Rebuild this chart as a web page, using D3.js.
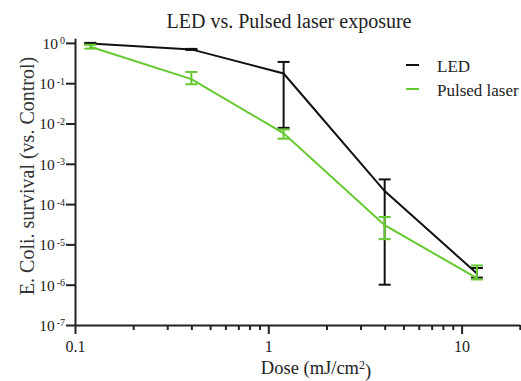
<!DOCTYPE html>
<html>
<head>
<meta charset="utf-8">
<script src="https://cdn.jsdelivr.net/npm/d3@7"></script>
<style>
  body { margin: 0; background: #fff; }
  text { font-family: "Liberation Serif", "DejaVu Serif", serif; fill: #222; }
</style>
</head>
<body>
<script>
// data
const dose = [0.12, 0.4, 1.2, 4, 12];
const ledMean = [0.97, 0.69, 0.174, 2.1e-4, 1.9e-6];
const ledHi = [1.0, 0.71, 0.337, 4.1e-4, 2.6e-6];
const ledLo = [0.93, 0.67, 0.0078, 1.0e-6, 1.5e-6];
const laserMean = [0.80, 0.126, 0.0057, 3.0e-5, 1.45e-6];
const laserHi = [0.90, 0.19, 0.0071, 4.8e-5, 3.0e-6];
const laserLo = [0.72, 0.094, 0.0042, 1.35e-5, 1.35e-6];
const yTicks = [0, -1, -2, -3, -4, -5, -6, -7];
const xTicks = [0.1, 1, 10];

const width = 521, height = 381;

const svg = d3.select("body").append("svg")
  .attr("width", width)
  .attr("height", height);

const x = d3.scaleLog().domain([0.1, 20]).range([75, 519.8]);
const y = d3.scaleLog().domain([1e-7, 1.3]).range([325, 38.3]);

svg.append("text")
  .attr("x", 289)
  .attr("y", 27.5)
  .style("text-anchor", "middle")
  .style("font-size", "20px")
  .text("LED vs. Pulsed laser exposure");

// x axis with minor ticks
const minor = [];
[0.1, 1, 10].forEach((d) => { for (let i = 2; i <= 9; i++) { if (d * i <= 20) minor.push(d * i); } });

svg.append("g")
  .attr("transform", "translate(0," + y(1e-7) + ")")
  .call(d3.axisBottom(x).tickValues(minor).tickSize(5).tickFormat(""))
  .call((g) => g.select(".domain").remove())
  .call((g) => g.selectAll("line").attr("stroke", "#222").attr("stroke-width", 2));

const xAxis = svg.append("g")
  .attr("transform", "translate(0," + y(1e-7) + ")")
  .call(d3.axisBottom(x).tickValues(xTicks).tickSize(9).tickSizeOuter(0).tickFormat((d) => d))
  .call((g) => g.select(".domain").attr("stroke", "#222").attr("stroke-width", 2))
  .call((g) => g.selectAll("line").attr("stroke", "#222").attr("stroke-width", 2));
xAxis.selectAll("text")
  .attr("y", 16)
  .style("font-size", "16px")
  .style("font-family", "Liberation Serif, serif")
  .attr("fill", "#222");

// y axis with superscripted labels
const yAxis = svg.append("g")
  .attr("transform", "translate(" + x(0.1) + ",0)")
  .call(d3.axisLeft(y).tickValues(yTicks.map((p) => Math.pow(10, p))).tickSize(9).tickSizeOuter(0).tickFormat(""))
  .call((g) => g.select(".domain").attr("stroke", "#222").attr("stroke-width", 2))
  .call((g) => g.selectAll("line").attr("stroke", "#222").attr("stroke-width", 2));

yAxis.selectAll(".tick").each(function (d) {
  const p = Math.round(Math.log10(d));
  const t = d3.select(this).append("text")
    .attr("x", -10)
    .attr("dy", "0.35em")
    .style("text-anchor", "end")
    .style("font-size", "15.5px");
  t.append("tspan").text("10");
  t.append("tspan")
    .attr("dx", "2")
    .attr("dy", "-0.45em")
    .style("font-size", "10px")
    .text(p === 0 ? "0" : String(p));
});

svg.append("text")
  .attr("transform", "translate(27,176) rotate(-90)")
  .attr("dy", "0.35em")
  .style("text-anchor", "middle")
  .style("font-size", "20px")
  .style("fill", "#333")
  .text("E. Coli. survival (vs. Control)");

const xl = svg.append("text")
  .attr("x", 316)
  .attr("y", 374)
  .style("text-anchor", "middle")
  .style("font-size", "18.5px");
xl.append("tspan").text("Dose (mJ/cm");
xl.append("tspan").attr("dy", "-0.45em").style("font-size", "12px").text("2");
xl.append("tspan").attr("dy", "0.45em").text(")");

const line = d3.line()
  .x((d) => x(d[0]))
  .y((d) => y(d[1]));

function drawSeries(mean, hi, lo, color) {
  const pts = dose.map((d, i) => [d, mean[i]]);
  svg.append("path")
    .datum(pts)
    .attr("fill", "none")
    .attr("stroke", color)
    .attr("stroke-width", 2)
    .attr("d", line);

  const bars = svg.append("g").attr("stroke", color).attr("stroke-width", 2);
  dose.forEach((d, i) => {
    const cx = x(d);
    bars.append("line")
      .attr("x1", cx).attr("x2", cx)
      .attr("y1", y(hi[i])).attr("y2", y(lo[i]));
    [hi[i], lo[i]].forEach((v) => {
      bars.append("line")
        .attr("x1", cx - 6).attr("x2", cx + 6)
        .attr("y1", y(v)).attr("y2", y(v));
    });
  });
}

drawSeries(ledMean, ledHi, ledLo, "#111");
drawSeries(laserMean, laserHi, laserLo, "#66c830");

// legend
const legend = [["LED", "#111"], ["Pulsed laser", "#66c830"]];
legend.forEach((l, i) => {
  const ly = 65 + i * 24;
  svg.append("line")
    .attr("x1", 406).attr("x2", 419)
    .attr("y1", ly).attr("y2", ly)
    .attr("stroke", l[1])
    .attr("stroke-width", 2);
  svg.append("text")
    .attr("x", 437)
    .attr("y", ly)
    .attr("dy", "0.4em")
    .style("font-size", "17px")
    .text(l[0]);
});
</script>
</body>
</html>
